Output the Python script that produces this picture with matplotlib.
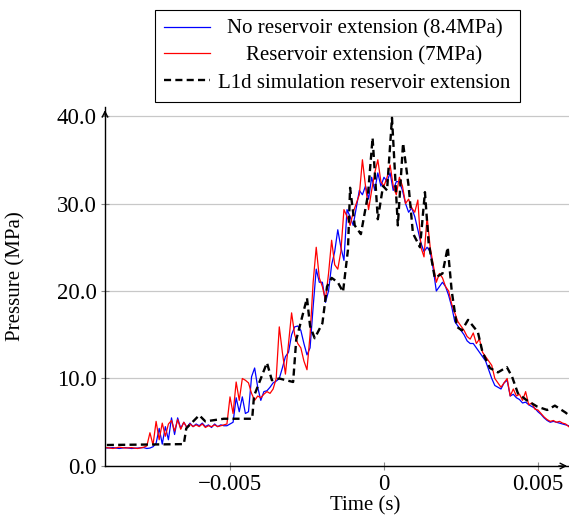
import numpy as np
import matplotlib.pyplot as plt

plt.rcParams['font.family'] = ['Liberation Serif', 'DejaVu Serif']

# measured traces (time in ms, pressure in MPa)
t_exp = [-9.0, -8.8, -8.6, -8.4, -8.2, -8.0, -7.8, -7.7, -7.6, -7.5,
         -7.4, -7.3, -7.2, -7.1, -7.0, -6.9, -6.8, -6.7, -6.6, -6.5,
         -6.4, -6.3, -6.2, -6.1, -6.0, -5.9, -5.8, -5.7, -5.6, -5.5,
         -5.4, -5.3, -5.2, -5.1, -5.0, -4.9, -4.8, -4.7, -4.6, -4.5,
         -4.4, -4.3, -4.2, -4.1, -4.0, -3.9, -3.8, -3.7, -3.6, -3.5,
         -3.4, -3.3, -3.2, -3.1, -3.0, -2.9, -2.8, -2.7, -2.6, -2.5,
         -2.4, -2.3, -2.2, -2.1, -2.0, -1.9, -1.8, -1.7, -1.6, -1.5,
         -1.4, -1.3, -1.2, -1.1, -1.0, -0.9, -0.8, -0.7, -0.6, -0.5,
         -0.4, -0.3, -0.2, -0.1, 0.0, 0.1, 0.2, 0.3, 0.4, 0.5,
         0.6, 0.7, 0.8, 0.9, 1.0, 1.1, 1.2, 1.3, 1.4, 1.5,
         1.6, 1.7, 1.8, 1.9, 2.0, 2.1, 2.2, 2.3, 2.4, 2.5,
         2.6, 2.7, 2.8, 2.9, 3.0, 3.1, 3.2, 3.3, 3.4, 3.5,
         3.6, 3.7, 3.8, 3.9, 4.0, 4.1, 4.2, 4.3, 4.4, 4.5,
         4.6, 4.7, 4.8, 4.9, 5.0, 5.1, 5.2, 5.3, 5.4, 5.5,
         5.6, 5.7, 5.8, 5.9, 6.0]

p_no_ext = [2.05, 2.1, 2.0, 2.1, 2.0, 2.05, 2.1, 2.0, 2.05, 2.2,
            2.6, 4.3, 2.5, 4.5, 3.0, 5.5, 3.6, 5.5, 4.3, 5.0,
            4.4, 4.9, 4.5, 4.8, 4.6, 4.9, 4.5, 4.7, 4.4, 4.8,
            4.5, 4.7, 4.6, 4.6, 4.8, 5.0, 7.8, 6.2, 7.9, 6.0,
            6.2, 10.2, 11.2, 9.0, 7.5, 8.5, 8.6, 9.0, 9.5, 9.7,
            10.0, 11.2, 12.5, 13.0, 15.0, 15.9, 16.0, 15.5, 14.0, 12.7,
            13.5, 18.2, 22.5, 21.0, 21.0, 18.7, 20.0, 23.0, 24.5, 27.0,
            25.0, 23.5, 29.3, 28.5, 27.5, 29.5, 31.5, 31.0, 32.0, 30.5,
            33.0, 31.5, 33.5, 32.0, 33.0, 32.5, 33.5, 31.5, 32.5, 32.5,
            31.5, 30.0, 29.0, 29.5, 28.5, 27.0, 25.5, 24.5, 25.0, 24.5,
            22.5, 20.0, 20.5, 21.0, 20.5, 19.5, 18.2, 16.5, 16.0, 15.5,
            15.0, 14.3, 14.0, 14.0, 13.5, 13.0, 12.5, 12.0, 11.0, 10.0,
            9.2, 9.0, 8.8, 9.5, 9.8, 8.0, 8.2, 7.8, 7.6, 7.2,
            7.3, 7.0, 6.8, 6.6, 6.2, 5.9, 5.5, 5.2, 5.0, 5.1,
            5.0, 4.9, 4.8, 4.7, 4.6]

p_ext = [2.1, 2.0, 2.15, 2.05, 2.1, 2.0, 2.15, 2.3, 3.8, 2.4,
         5.1, 3.0, 4.9, 3.4, 4.8, 5.2, 4.0, 5.3, 4.2, 5.0,
         4.4, 4.8, 4.5, 4.7, 4.5, 4.8, 4.4, 4.6, 4.5, 4.7,
         4.5, 4.6, 4.7, 4.8, 7.9, 6.0, 9.6, 7.5, 10.0, 9.8,
         9.5, 8.3, 7.5, 8.0, 7.8, 8.2, 8.5, 8.3, 8.8, 10.0,
         15.9, 13.0, 10.5, 14.0, 17.5, 15.0, 14.0, 13.5, 12.0, 11.0,
         15.0, 21.0, 25.0, 21.5, 20.5, 19.0, 22.0, 25.8, 23.0, 22.5,
         24.5, 29.3, 28.5, 27.5, 29.0, 30.0, 31.0, 35.0, 32.0, 29.3,
         31.5, 33.5, 35.0, 32.5, 32.0, 33.0, 34.4, 32.0, 31.0, 33.0,
         32.0, 30.0, 30.5, 29.5, 29.0, 30.4, 25.0, 23.9, 28.5, 25.0,
         23.0, 21.0, 22.0, 21.5, 20.5, 20.0, 18.5, 17.5, 16.5, 16.0,
         15.5, 14.8, 14.5, 15.2, 14.0, 14.5, 13.0, 12.5, 12.0, 11.5,
         10.0, 9.5, 9.0, 9.5, 10.0, 8.0, 8.8, 8.0, 8.2, 7.5,
         8.5, 7.0, 7.2, 6.5, 6.4, 6.0, 5.6, 5.3, 5.1, 5.2,
         5.0, 5.1, 4.9, 4.8, 4.5]

# L1d simulation
t_sim = [-9.0, -6.5, -6.42, -6.0, -5.8, -5.2, -4.28, -4.22, -3.8, -3.64,
         -3.4, -2.95, -2.85, -2.5, -2.4, -2.25, -2.0, -1.85, -1.7, -1.5,
         -1.33, -1.17, -1.1, -0.95, -0.75, -0.52, -0.37, -0.2, -0.03, 0.1,
         0.26, 0.45, 0.62, 0.8, 0.94, 1.17, 1.33, 1.45, 1.65, 1.9,
         2.07, 2.2, 2.37, 2.53, 2.73, 2.89, 3.05, 3.2, 3.44, 3.7,
         3.99, 4.16, 4.35, 4.64, 4.97, 5.3, 5.55, 5.9, 6.0]
p_sim = [2.4, 2.5, 4.3, 5.8, 5.1, 5.4, 5.4, 8.0, 11.8, 9.8,
         10.0, 9.6, 14.4, 19.2, 16.0, 14.6, 16.3, 20.5, 21.5, 21.0,
         19.9, 24.7, 31.8, 27.5, 26.5, 31.0, 37.5, 28.2, 32.0, 31.5,
         39.8, 27.5, 36.9, 32.0, 26.6, 25.0, 31.3, 25.5, 21.5, 22.0,
         25.0, 20.0, 15.9, 15.5, 16.7, 16.0, 15.3, 13.0, 11.2, 10.7,
         11.3, 10.2, 8.3, 7.5, 6.8, 6.4, 6.9, 6.1, 5.8]

labels = ['No reservoir extension (8.4MPa)', 'Reservoir extension (7MPa)',
          'L1d simulation reservoir extension']
xticks = [-0.005, 0, 0.005]
xticklabels = ['\u22120.005', '0', '0.005']
yticks = [0, 10, 20, 30, 40]

fig = plt.figure(figsize=(5.69, 5.24), dpi=100)
ax = fig.add_axes([0.1845, 0.1107, 0.8172, 0.6846])

ax.plot(np.array(t_exp) / 1000, p_no_ext, color='blue', lw=0.9, label=labels[0])
ax.plot(np.array(t_exp) / 1000, p_ext, color='red', lw=0.9, label=labels[1])
ax.plot(np.array(t_sim) / 1000, p_sim, color='black', lw=1.7, ls=(0, (3, 1.8)),
        label=labels[2])

ax.set_xlim(-0.00906, 0.00604)
ax.set_ylim(0, 41)

ax.set_yticks(yticks)
ax.set_yticklabels(['%.1f' % v for v in yticks])
ax.set_xticks(xticks)
ax.set_xticklabels(xticklabels)
ax.yaxis.grid(True, color='#c8c8c8', lw=0.9)
ax.set_axisbelow(True)
ax.tick_params(labelsize=16.5, direction='inout', length=6, color='#888888', pad=3)

for s in ['top', 'right']:
    ax.spines[s].set_visible(False)
for s in ['left', 'bottom']:
    ax.spines[s].set_linewidth(1.0)
ax.annotate('', xy=(1.0, 0), xytext=(0.97, 0), xycoords='axes fraction',
            arrowprops=dict(arrowstyle='->', lw=1.0, color='black'))
ax.annotate('', xy=(0, 1.0), xytext=(0, 0.97), xycoords='axes fraction',
            arrowprops=dict(arrowstyle='->', lw=1.0, color='black'))

ax.set_xlabel('Time (s)', fontsize=15, labelpad=0)
ax.set_ylabel('Pressure (MPa)', fontsize=15)
ax.xaxis.set_label_coords(0.56, -0.085)
ax.yaxis.set_label_coords(-0.17, 0.53)

leg = fig.legend(loc='upper center', bbox_to_anchor=(0.593, 0.981), fontsize=15,
                 fancybox=False, edgecolor='black', framealpha=1,
                 handlelength=2.2, handletextpad=0.4, borderpad=0.45,
                 labelspacing=0.35, borderaxespad=0)
leg.get_frame().set_linewidth(0.8)

# centre the legend texts within their column
fig.canvas.draw()
renderer = fig.canvas.get_renderer()
widths = [t.get_window_extent(renderer).width for t in leg.get_texts()]
for t, w in zip(leg.get_texts(), widths):
    t.set_x((max(widths) - w) / 2)

fig.savefig('out.png', dpi=100)
